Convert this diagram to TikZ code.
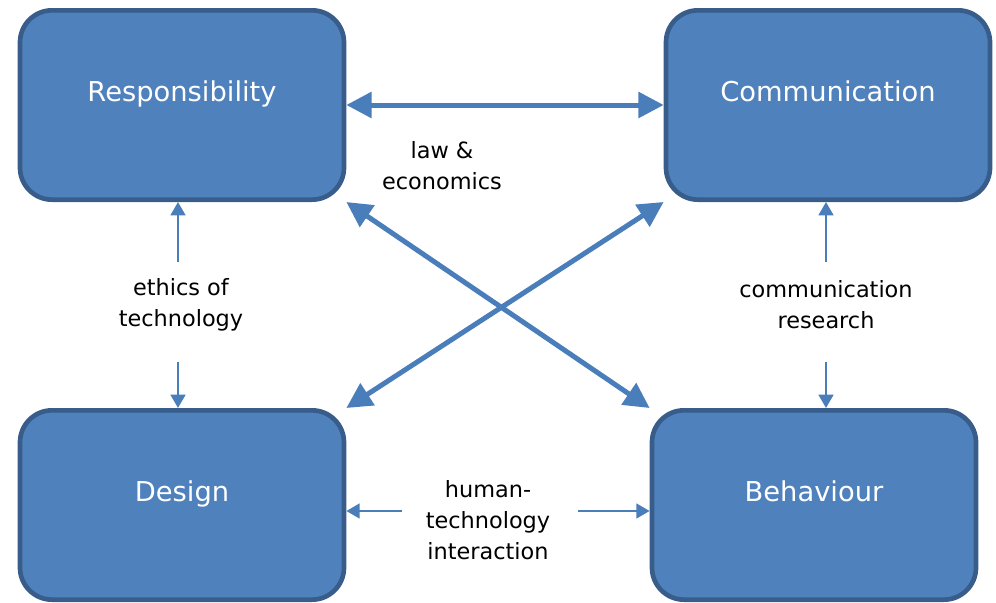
\documentclass[tikz,border=0pt]{standalone}
\usepackage{fontspec}
\setmainfont{DejaVu Sans}
\usetikzlibrary{arrows.meta}
\definecolor{boxfill}{HTML}{4F81BD}
\definecolor{boxline}{HTML}{385D8A}
\definecolor{arrowblue}{HTML}{4A7EBB}

\begin{document}
\begin{tikzpicture}[x=0.75pt,y=-0.75pt,node distance=300pt,
    box/.style={rectangle, rounded corners=24pt, draw=boxline, fill=boxfill, line width=3.5pt,
        minimum width=243pt, minimum height=142pt, text=white,
        font=\fontsize{20.5}{24}\selectfont, text height=15pt, text depth=19.6pt},
    lbl/.style={align=center, font=\fontsize{16.8}{23.25}\selectfont},
    fat/.style={draw=arrowblue, line width=3.75pt, {Triangle[length=19pt,width=19pt]}-{Triangle[length=19pt,width=19pt]}},
    slim/.style={draw=arrowblue, line width=2pt, -{Triangle[length=10pt,width=11pt]}},
    ]
                    \useasboundingbox (0,0) rectangle (996,603);

                    \node [box](1) at (182,105){Responsibility};
                    \node [box](2) [right of = 1, xshift = 184.5]{Communication};
                    \node [box](3) [below of = 1]{Design};
                    \node [box](4) [right of = 3, xshift = 174]{Behaviour};

                    \node [lbl](5) at (442,166){law \&\\economics};
                    \node [lbl](6) at (181,305){ethics of\\technology};
                    \node [lbl](7) at (488,520){human-\\technology\\interaction};
                    \node [lbl](8) at (826,305){communication\\research};

                    \coordinate (61) at (178,262);
                    \coordinate (62) at (178,362);
                    \coordinate (71) at (402,511);
                    \coordinate (72) at (578,511);
                    \coordinate (81) at (826,262);
                    \coordinate (82) at (826,362);

                    \path
                        (1) edge[fat] (2)
                        (1.south east) edge[fat] (4.north west)
                        (2.south west) edge[fat] (3.north east)

                        (61) edge[slim] (61 |- 1.south)
                        (62) edge[slim] (62 |- 3.north)
                        (71) edge[slim] (71 -| 3.east)
                        (72) edge[slim] (72 -| 4.west)
                        (81) edge[slim] (81 |- 2.south)
                        (82) edge[slim] (82 |- 4.north)
                    ;

                \end{tikzpicture}
\end{document}
